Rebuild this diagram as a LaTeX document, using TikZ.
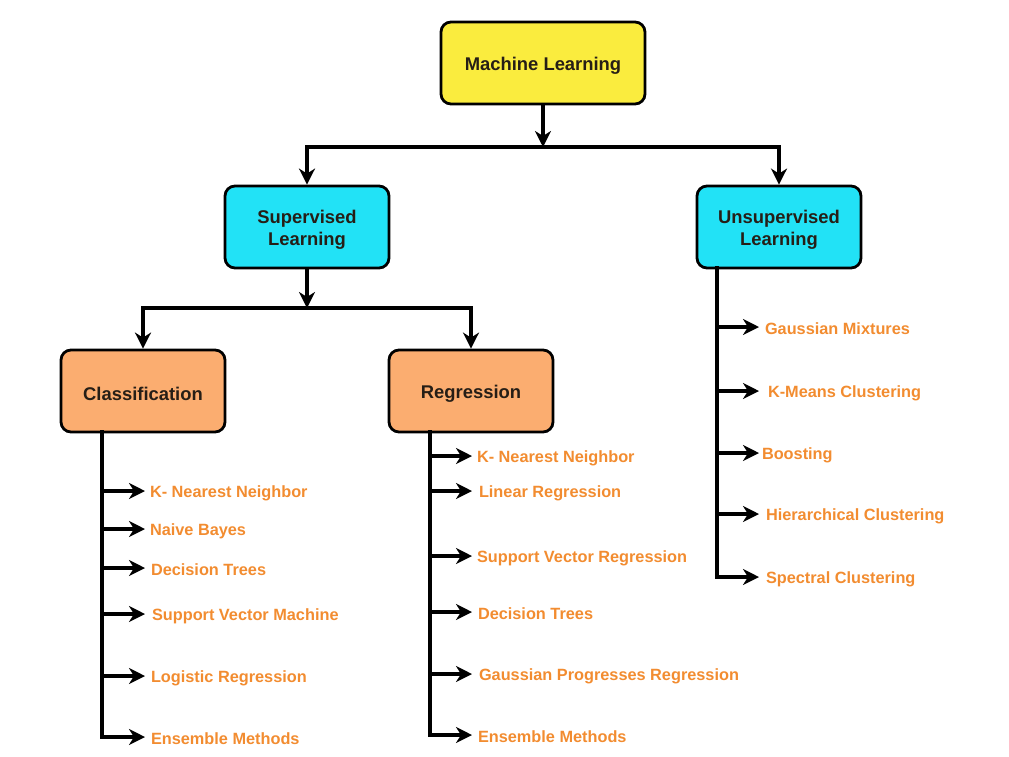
\documentclass[tikz,border=0pt]{standalone}
\usepackage{fontspec}
\setmainfont{Liberation Sans}
\usetikzlibrary{arrows.meta}
\definecolor{mlyellow}{RGB}{250,236,62}
\definecolor{slcyan}{RGB}{34,226,246}
\definecolor{clorange}{RGB}{251,173,112}
\definecolor{itemorange}{RGB}{242,140,48}
\definecolor{boxtext}{RGB}{38,30,22}
\begin{document}
\begin{tikzpicture}[x=1pt,y=-1pt,
  box/.style={draw=black, line width=2.8pt, rounded corners=10pt,
    minimum width=164pt, minimum height=82pt, align=center, inner sep=0pt,
    text=boxtext, font=\fontsize{18.4}{22}\selectfont\bfseries},
  item/.style={anchor=west, inner sep=0pt, outer sep=0pt, text=itemorange,
    font=\fontsize{16.3}{19}\selectfont\bfseries,
    execute at begin node={\rule{0pt}{16pt}}},
  wire/.style={line width=3.6pt, line cap=rect},
  link/.style={line width=3.6pt, -{Stealth[length=16pt,width=16pt,inset=5pt]}}]
\useasboundingbox (0,0) rectangle (1009,756);

% main boxes (the zero-width rules lower the lettering a little)
\node[box, fill=mlyellow, minimum width=204pt] (ml) at (543,63) {\rule{0pt}{18.4pt}Machine Learning};
\node[box, fill=slcyan] (sup) at (307,227) {\rule{0pt}{19pt}Supervised\\Learning};
\node[box, fill=slcyan] (unsup) at (779,227) {\rule{0pt}{19pt}Unsupervised\\Learning};
\node[box, fill=clorange] (cls) at (143,391) {\rule{0pt}{18.4pt}Classification};
\node[box, fill=clorange] (reg) at (471,391) {\rule{0pt}{18.4pt}Regression};

% branch junctions
\coordinate (mlj) at (543,147);
\coordinate (supj) at (307,308);
\draw[wire] (sup.north |- mlj) -- (unsup.north |- mlj);
\draw[link] (ml.south) -- (mlj);
\draw[link] (sup.north |- mlj) -- (sup.north);
\draw[link] (unsup.north |- mlj) -- (unsup.north);
\draw[wire] (cls.north |- supj) -- (reg.north |- supj);
\draw[link] (sup.south) -- (supj);
\draw[link] (cls.north |- supj) -- (cls.north);
\draw[link] (reg.north |- supj) -- (reg.north);

% classification methods
\node[item] (c1) at (145,491) {\hspace{5pt}K- Nearest Neighbor};
\node[item] (c2) at (145,529) {\hspace{5pt}Naive Bayes};
\node[item] (c3) at (145,568) {\hspace{6pt}Decision Trees};
\node[item] (c4) at (145,614) {\hspace{7pt}Support Vector Machine};
\node[item] (c5) at (145,676) {\hspace{6pt}Logistic Regression};
\node[item] (c6) at (145,737) {\hspace{6pt}Ensemble Methods};
\coordinate (ctrunk) at (102,432);
\draw[wire] (ctrunk) -- (ctrunk |- c6.west);
\foreach \n in {c1,c2,c3,c4,c5,c6}
  \draw[link] (ctrunk |- \n.west) -- (\n.west);

% regression methods
\node[item] (r1) at (472,456) {\hspace{5pt}K- Nearest Neighbor};
\node[item] (r2) at (472,491) {\hspace{7pt}Linear Regression};
\node[item] (r3) at (472,556) {\hspace{5pt}Support Vector Regression};
\node[item] (r4) at (472,612) {\hspace{6pt}Decision Trees};
\node[item] (r5) at (472,674) {\hspace{7pt}Gaussian Progresses Regression};
\node[item] (r6) at (472,735) {\hspace{6pt}Ensemble Methods};
\coordinate (rtrunk) at (430,432);
\draw[wire] (rtrunk) -- (rtrunk |- r6.west);
\foreach \n in {r1,r2,r3,r4,r5,r6}
  \draw[link] (rtrunk |- \n.west) -- (\n.west);

% clustering and other unsupervised methods
\node[item] (u1) at (759,327) {\hspace{6pt}Gaussian Mixtures};
\node[item] (u2) at (759,391) {\hspace{9pt}K-Means Clustering};
\node[item] (u3) at (759,453) {\hspace{3pt}Boosting};
\node[item] (u4) at (759,514) {\hspace{7pt}Hierarchical Clustering};
\node[item] (u5) at (759,577) {\hspace{7pt}Spectral Clustering};
\coordinate (utrunk) at (717,268);
\draw[wire] (utrunk) -- (utrunk |- u5.west);
\foreach \n in {u1,u2,u3,u4,u5}
  \draw[link] (utrunk |- \n.west) -- (\n.west);
\end{tikzpicture}
\end{document}
